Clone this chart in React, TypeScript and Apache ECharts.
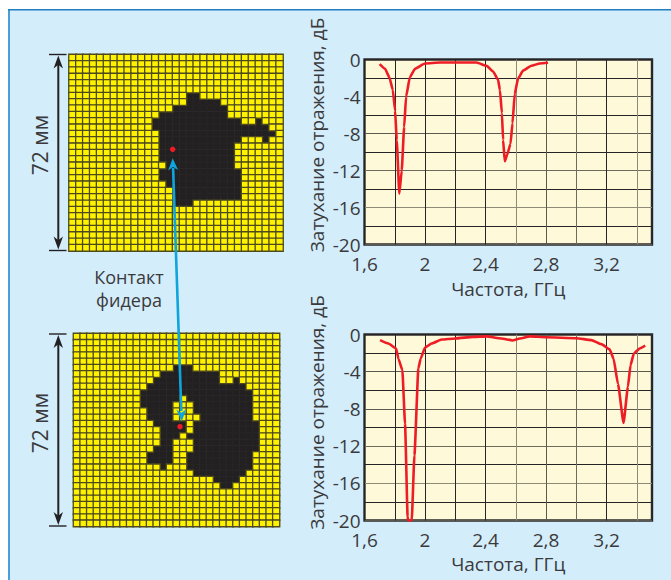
import React, { useEffect, useRef } from "react";
import * as echarts from "echarts";

// Antenna patch metal, per row: [row, first column, last column] on a 31x31 lattice
const latticeSize = 31;
const topPatchRuns = [
  [6, 17, 18], [7, 17, 21], [8, 15, 22], [9, 13, 22],
  [10, 12, 24], [10, 27, 27], [11, 12, 28], [12, 13, 29],
  [13, 13, 24], [13, 28, 28], [14, 13, 23], [15, 13, 23], [16, 13, 23],
  [17, 14, 23], [18, 13, 24], [19, 13, 24], [20, 14, 24],
  [21, 15, 24], [22, 15, 24], [23, 15, 17],
];
const bottomPatchRuns = [
  [5, 15, 17], [6, 13, 21], [7, 12, 21], [7, 24, 24], [8, 11, 25],
  [9, 10, 26], [10, 10, 15], [10, 17, 26], [11, 10, 14], [11, 18, 26],
  [12, 11, 14], [12, 18, 26], [13, 11, 14], [13, 19, 26],
  [14, 12, 16], [14, 18, 27], [15, 13, 16], [15, 18, 27],
  [16, 13, 15], [16, 17, 27], [17, 13, 14], [17, 18, 27],
  [18, 12, 14], [18, 18, 27], [19, 11, 14], [19, 17, 26],
  [20, 11, 14], [20, 17, 26], [21, 13, 13], [21, 17, 26],
  [22, 18, 25], [23, 21, 24], [24, 22, 23],
];

// Measured curves: frequency (GHz), return loss (dB)
const topFreq = [1.7, 1.736, 1.765, 1.787, 1.802, 1.813, 1.83, 1.846, 1.862, 1.875, 1.9, 1.934, 2.0, 2.1, 2.34, 2.407, 2.45, 2.483, 2.495, 2.508, 2.516, 2.527, 2.543, 2.565, 2.578, 2.593, 2.615, 2.648, 2.703, 2.758, 2.813];
const topLoss = [-0.5, -1.0, -1.95, -3.3, -5.5, -8.7, -14.5, -12, -7.3, -4.0, -1.9, -1.0, -0.43, -0.33, -0.33, -0.68, -1.3, -2.2, -3.3, -5.8, -8.7, -11, -10.3, -9.1, -6.9, -3.7, -2.05, -1.2, -0.68, -0.43, -0.36];
const bottomFreq = [1.703, 1.758, 1.809, 1.824, 1.85, 1.868, 1.885, 1.888, 1.912, 1.93, 1.956, 1.971, 2.0, 2.044, 2.11, 2.198, 2.319, 2.407, 2.505, 2.578, 2.626, 2.692, 2.802, 3.0, 3.099, 3.165, 3.22, 3.246, 3.275, 3.312, 3.341, 3.358, 3.38, 3.418, 3.455];
const bottomLoss = [-0.6, -0.97, -1.5, -2.6, -3.8, -9.6, -19.6, -20, -20, -13, -3.65, -2.6, -1.4, -0.97, -0.54, -0.43, -0.25, -0.2, -0.43, -0.64, -0.43, -0.2, -0.3, -0.4, -0.6, -1.04, -1.6, -2.6, -5.3, -9.5, -5.6, -3.3, -2.04, -1.5, -1.2];

const freqRange = [1.6, 3.5];
const freqStep = 0.2;
const lossRange = [-20, 0];
const lossStep = 2;
const freqName = "Частота, ГГц";
const lossName = "Затухание отражения, дБ";
const sizeLabel = "72 мм";
const feedLabelLines = ["Контакт", "фидера"];

const FONT = '"Open Sans", sans-serif';
const INK = "#3a3a3c";
const DARK = "#232022";
const LINE = "#262426";
const SOFT = "#8d8a78";
const xLineColors = [LINE, LINE, LINE, LINE, LINE, SOFT, "#5c5a50", "#6d6b5e", LINE, SOFT, LINE];
const yLineColors = [LINE, LINE, "#5c5a50", LINE, "#5c5a50", LINE, "#6d6b5e", LINE, SOFT, LINE, "#5c5a50"].reverse();

function cells(runs: number[][]) {
  const metal = new Set<string>();
  runs.forEach(([r, a, b]) => {
    for (let c = a; c <= b; c++) metal.add(c + ":" + r);
  });
  const black: any[] = [];
  const yellow: any[] = [];
  for (let r = 0; r < latticeSize; r++) {
    for (let c = 0; c < latticeSize; c++) {
      if (metal.has(c + ":" + r)) {
        black.push({ value: [c, r, 1], itemStyle: { borderColor: "#2d2a2c", borderWidth: 0.6 } });
      } else {
        yellow.push({ value: [c, r, 0], itemStyle: { borderColor: "#4e4a1e", borderWidth: 1.3 } });
      }
    }
  }
  return [...black, ...yellow];
}

function arrowHead(tipX: number, tipY: number, dirX: number, dirY: number, len: number, half: number, fill: string) {
  const nx = -dirY, ny = dirX;
  return {
    type: "polygon", z: 100,
    shape: {
      points: [
        [tipX, tipY],
        [tipX - dirX * len + nx * half, tipY - dirY * len + ny * half],
        [tipX - dirX * len * 0.72, tipY - dirY * len * 0.72],
        [tipX - dirX * len - nx * half, tipY - dirY * len - ny * half],
      ],
    },
    style: { fill },
  };
}

function dimension(x: number, y0: number, y1: number) {
  const stroke = { stroke: DARK, lineWidth: 2 };
  return [
    { type: "line", z: 100, shape: { x1: x, y1: y0 + 6, x2: x, y2: y1 - 6 }, style: stroke },
    { type: "line", z: 100, shape: { x1: 49, y1: y0, x2: 66.5, y2: y0 }, style: { stroke: DARK, lineWidth: 1.4 } },
    { type: "line", z: 100, shape: { x1: 49, y1: y1, x2: 66.5, y2: y1 }, style: { stroke: DARK, lineWidth: 1.4 } },
    arrowHead(x, y0 + 1, 0, -1, 13, 4.7, DARK),
    arrowHead(x, y1 - 1, 0, 1, 13, 4.7, DARK),
  ];
}

function sizeText(x: number, y: number) {
  return {
    type: "text", z: 100, x, y, rotation: Math.PI / 2,
    style: { text: sizeLabel, font: `21px ${FONT}`, fill: INK, align: "center", verticalAlign: "middle" },
  };
}

function feedText(text: string, y: number) {
  return {
    type: "text", z: 100, x: 129, y,
    style: { text, font: `18px ${FONT}`, fill: INK, align: "center", verticalAlign: "middle" },
  };
}

function App() {
  const ref = useRef<HTMLDivElement>(null);
  useEffect(() => {
    document.body.style.margin = "0";
    const chart = echarts.init(ref.current!, undefined, { renderer: "svg" });
    const lattice = Array.from({ length: latticeSize }, (_, i) => String(i));
    const latticeGrids = [
      { left: 69, top: 54.5, width: 214, height: 196.5 },
      { left: 73.5, top: 333.5, width: 206, height: 193 },
    ];
    const plotGrids = [
      { left: 364.5, top: 59.5, width: 287.5, height: 185, show: true, backgroundColor: "#fef9d8", borderColor: "#2b2a2a", borderWidth: 2.4 },
      { left: 364.5, top: 334.5, width: 287.5, height: 186, show: true, backgroundColor: "#fef9d8", borderColor: "#2b2a2a", borderWidth: 2.4 },
    ];
    const catAxis = (i: number, inverse: boolean) => ({ type: "category", gridIndex: i, data: lattice, show: false, inverse });
    const labelStyle = { color: INK, fontFamily: FONT, fontSize: 19, lineHeight: 15 };
    const freqAxis = (i: number, gap: number) => ({
      type: "value", gridIndex: i, min: freqRange[0], max: freqRange[1], interval: freqStep,
      name: freqName, nameLocation: "middle", nameGap: gap,
      nameTextStyle: { color: INK, fontFamily: FONT, fontSize: 19 },
      axisLine: { show: false }, axisTick: { show: false },
      axisLabel: {
        ...labelStyle, margin: 12, showMaxLabel: false,
        formatter: (v: number) => {
          const t = Math.round(v * 10);
          return t % 4 === 0 && v < freqRange[1] ? String(t / 10).replace(".", ",") : "";
        },
      },
      splitLine: { show: true, lineStyle: { color: xLineColors, width: 1 } },
    });
    const lossAxis = (i: number, pad: number) => ({
      type: "value", gridIndex: i, min: lossRange[0], max: lossRange[1], interval: lossStep,
      name: lossName, nameLocation: "middle", nameGap: 38,
      nameTextStyle: { color: INK, fontFamily: FONT, fontSize: 19, padding: [0, 0, 0, pad] },
      axisLine: { show: false }, axisTick: { show: false },
      axisLabel: {
        ...labelStyle, margin: 4, padding: [0, 0, 4, 0],
        formatter: (v: number) => (Math.round(v) % 4 === 0 ? String(Math.round(v)) : ""),
      },
      splitLine: { show: true, lineStyle: { color: yLineColors, width: 1 } },
    });
    const curve = (i: number, xs: number[], ys: number[]) => ({
      type: "line", xAxisIndex: i, yAxisIndex: i, data: xs.map((x, k) => [x, ys[k]]),
      showSymbol: false, smooth: 0.15, smoothMonotone: "x", clip: true,
      lineStyle: { color: "#ee1c25", width: 2.6 }, z: 5,
    });
    const heat = (i: number, runs: number[][]) => ({
      type: "heatmap", xAxisIndex: i, yAxisIndex: i, data: cells(runs), progressive: 0,
    });
    const blue = "#0ea5dd";
    chart.setOption({
      animation: false,
      backgroundColor: "#ffffff",
      grid: [...latticeGrids, ...plotGrids],
      visualMap: {
        type: "piecewise", show: false, seriesIndex: [0, 1], dimension: 2,
        pieces: [{ value: 0, color: "#fff200" }, { value: 1, color: DARK }],
      },
      xAxis: [catAxis(0, false), catAxis(1, false), freqAxis(2, 35), freqAxis(3, 34)],
      yAxis: [catAxis(0, true), catAxis(1, true), lossAxis(2, 34), lossAxis(3, 30)],
      series: [
        heat(0, topPatchRuns), heat(1, bottomPatchRuns),
        curve(2, topFreq, topLoss),
        curve(3, bottomFreq, bottomLoss),
      ],
      graphic: [
        { type: "rect", z: -10, shape: { x: 8, y: 9, width: 663, height: 571 }, style: { fill: "#d4edfb" } },
        { type: "rect", z: -9, shape: { x: 8, y: 9, width: 2, height: 571 }, style: { fill: "#4a9fd8" } },
        { type: "rect", z: -9, shape: { x: 8, y: 9, width: 663, height: 1.6 }, style: { fill: "#1f7fc0" } },
        ...dimension(58.3, 54.5, 250.5),
        ...dimension(58.3, 334, 526),
        sizeText(40, 145),
        sizeText(40, 423),
        feedText(feedLabelLines[0], 277),
        feedText(feedLabelLines[1], 300),
        { type: "line", z: 100, shape: { x1: 173.1, y1: 168, x2: 181.3, y2: 411 }, style: { stroke: blue, lineWidth: 2.6 } },
        arrowHead(172.7, 158.3, -0.034, -0.999, 12, 5, blue),
        arrowHead(181.7, 421.5, 0.034, 0.999, 12, 5, blue),
        { type: "circle", z: 101, shape: { cx: 172.7, cy: 149.3, r: 2.7 }, style: { fill: "#ed1c24" } },
        { type: "circle", z: 101, shape: { cx: 180, cy: 426.7, r: 2.7 }, style: { fill: "#ed1c24" } },
      ],
    });
    return () => chart.dispose();
  }, []);
  return <div ref={ref} style={{ width: 671, height: 580 }} />;
}

export default App;
